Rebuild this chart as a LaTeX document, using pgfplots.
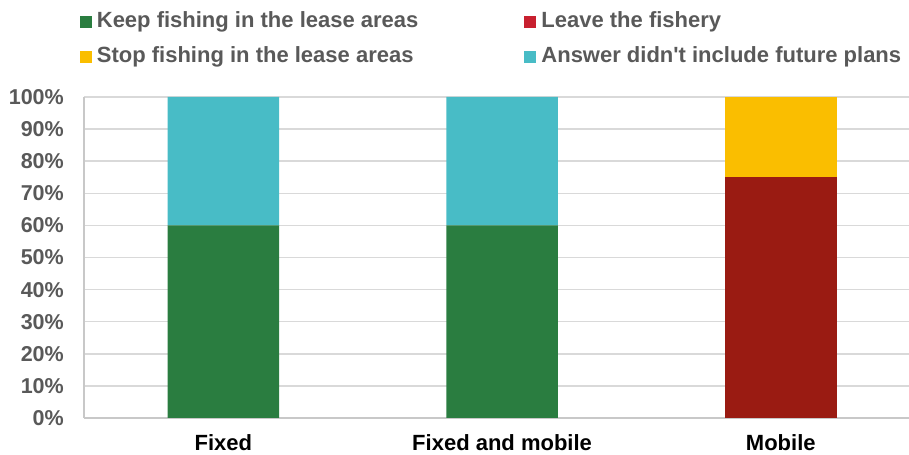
\documentclass[border=0pt]{standalone}
\usepackage{fontspec}
\setmainfont{Liberation Sans}[Ligatures=TeXOff]
\usepackage{pgfplots}
\pgfplotsset{compat=1.18}
\definecolor{cgreen}{HTML}{2A7D40}
\definecolor{cred}{HTML}{9A1B12}
\definecolor{credleg}{HTML}{C8202F}
\definecolor{cyellow}{HTML}{FABE00}
\definecolor{ccyan}{HTML}{48BCC6}
\definecolor{cgrid}{HTML}{D9D9D9}
\definecolor{caxis}{HTML}{C8C8C8}
\definecolor{ctext}{HTML}{595959}
\begin{document}
\begin{tikzpicture}
\useasboundingbox (-84bp,-37bp) rectangle (825bp,418bp);
\begin{axis}[
  at={(0,0)}, anchor=south west,
  scale only axis, width=825bp, height=321bp,
  xmin=-0.5, xmax=2.46, ymin=0, ymax=100,
  ybar stacked, bar width=0.4,
  xtick={0,1,2}, xticklabels={Fixed, Fixed and mobile, Mobile},
  ytick={0,10,20,30,40,50,60,70,80,90,100},
  yticklabels={0\%,10\%,20\%,30\%,40\%,50\%,60\%,70\%,80\%,90\%,100\%},
  /pgf/number format/assume math mode=true,
  axis x line*=bottom, axis y line*=left,
  axis line style={-, draw=caxis, line width=1.2bp},
  ymajorgrids, grid style={draw=cgrid, line width=1.5bp},
  major tick length=0pt,
  yticklabel style={font=\fontsize{21.5bp}{26bp}\selectfont\bfseries, text=ctext, inner sep=0pt, anchor=east, xshift=-20bp},
  xticklabel style={font=\fontsize{22bp}{26bp}\selectfont\bfseries, text=black, inner sep=0pt, anchor=base, yshift=-32bp},
  legend columns=2,
  legend cell align=left,
  legend style={at={(-0.005,1.265)}, anchor=north west, draw=none, fill=none,
    inner sep=0pt, outer sep=0pt, row sep=15bp,
    font=\fontsize{22bp}{26bp}\selectfont\bfseries, text=ctext,
    nodes={inner sep=0pt, text height=16bp, text depth=4bp},
    /tikz/every odd column/.style={column sep=5bp},
    /tikz/every even column/.style={column sep=106bp}},
  legend image code/.code={\fill[#1] (0bp,-6bp) rectangle (12bp,6bp);},
]
\addplot[fill=cgreen, draw=none] coordinates {(0,60) (1,60) (2,0)};
\addlegendentry{Keep fishing in the lease areas}
\addplot[fill=cred, draw=none, legend image code/.code={\fill[credleg] (0bp,-6bp) rectangle (12bp,6bp);}] coordinates {(0,0) (1,0) (2,75)};
\addlegendentry{Leave the fishery}
\addplot[fill=cyellow, draw=none] coordinates {(0,0) (1,0) (2,25)};
\addlegendentry{Stop fishing in the lease areas}
\addplot[fill=ccyan, draw=none] coordinates {(0,40) (1,40) (2,0)};
\addlegendentry{Answer didn't include future plans}
\end{axis}
\end{tikzpicture}
\end{document}
